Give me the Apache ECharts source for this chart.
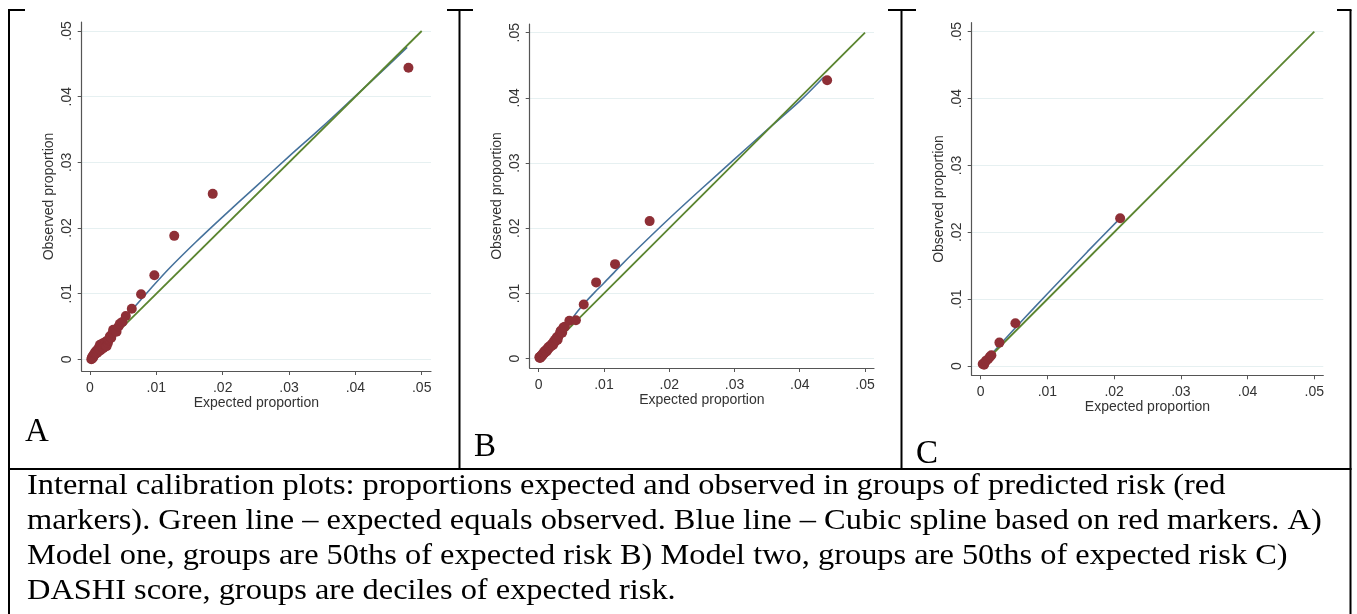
<!DOCTYPE html>
<html>
<head>
<meta charset="utf-8">
<script src="https://cdn.jsdelivr.net/npm/echarts@6/dist/echarts.min.js"></script>
<style>
html,body{margin:0;padding:0;background:#fff;}
#chart{width:1357px;height:614px;}
</style>
</head>
<body>
<div id="chart"></div>
<script>
// ---------- data ----------
var tickValues = [0, 0.01, 0.02, 0.03, 0.04, 0.05];
var xTitle = 'Expected proportion';
var yTitle = 'Observed proportion';
var panelLetters = ['A', 'B', 'C'];
var captionLines = [
  'Internal calibration plots: proportions expected and observed in groups of predicted risk (red',
  'markers). Green line \u2013 expected equals observed. Blue line \u2013 Cubic spline based on red markers. A)',
  'Model one, groups are 50ths of expected risk B) Model two, groups are 50ths of expected risk C)',
  'DASHI score, groups are deciles of expected risk.'
];

// Panel A: model one, 50ths of expected risk
var aExpected = [0.0002,0.0003,0.0003,0.0004,0.0005,0.0005,0.0006,0.0007,0.0008,0.0008,
                 0.0009,0.0010,0.0011,0.0011,0.0012,0.0013,0.0013,0.0014,0.0015,0.0016,
                 0.0016,0.0017,0.0018,0.0019,0.0020,0.0021,0.0022,0.0023,0.0024,0.0025,
                 0.0026,0.0027,0.0028,0.0029,0.0030,0.0032,0.0034,0.0035,0.0038,0.0040,
                 0.0043,0.0045,0.0049,0.0054,0.0063,0.0077,0.0097,0.0127,0.0185,0.0480];
var aObserved = [0.0000,0.0003,0.0001,0.0004,0.0006,0.0003,0.0007,0.0009,0.0008,0.0011,
                 0.0009,0.0013,0.0014,0.0010,0.0015,0.0017,0.0012,0.0016,0.0022,0.0019,
                 0.0014,0.0021,0.0018,0.0024,0.0017,0.0025,0.0022,0.0023,0.0027,0.0020,
                 0.0028,0.0025,0.0029,0.0031,0.0035,0.0033,0.0040,0.0045,0.0044,0.0042,
                 0.0050,0.0054,0.0057,0.0066,0.0077,0.0099,0.0128,0.0188,0.0252,0.0444];
var aSplineX = [0.0002,0.0010,0.0020,0.0035,0.0050,0.0070,0.0090,0.0120,0.0160,0.0200,0.0250,0.0300,0.0350,0.0400,0.0450,0.0478];
var aSplineY = [0.0002,0.0011,0.0023,0.0041,0.0059,0.0083,0.0106,0.0139,0.0179,0.0217,0.0263,0.0309,0.0354,0.0401,0.0448,0.0475];

// Panel B: model two, 50ths of expected risk
var bExpected = [0.0001,0.0002,0.0002,0.0003,0.0004,0.0004,0.0005,0.0006,0.0006,0.0007,
                 0.0008,0.0008,0.0009,0.0010,0.0010,0.0011,0.0012,0.0012,0.0013,0.0014,
                 0.0015,0.0015,0.0016,0.0017,0.0018,0.0019,0.0020,0.0021,0.0022,0.0023,
                 0.0024,0.0025,0.0026,0.0027,0.0028,0.0029,0.0030,0.0031,0.0033,0.0034,
                 0.0036,0.0038,0.0040,0.0047,0.0057,0.0069,0.0088,0.0117,0.0170,0.0442];
var bObserved = [0.0002,0.0001,0.0003,0.0002,0.0004,0.0005,0.0004,0.0006,0.0007,0.0007,
                 0.0008,0.0010,0.0009,0.0011,0.0012,0.0012,0.0011,0.0014,0.0013,0.0015,
                 0.0016,0.0018,0.0017,0.0018,0.0020,0.0019,0.0022,0.0023,0.0021,0.0026,
                 0.0025,0.0029,0.0027,0.0030,0.0033,0.0029,0.0034,0.0036,0.0041,0.0043,
                 0.0040,0.0048,0.0049,0.0058,0.0059,0.0083,0.0117,0.0145,0.0211,0.0427];
var bSplineX = [0.0001,0.0010,0.0020,0.0030,0.0040,0.0050,0.0060,0.0070,0.0085,0.0100,0.0120,0.0150,0.0200,0.0250,0.0300,0.0350,0.0400,0.0437];
var bSplineY = [0.0001,0.0011,0.0023,0.0035,0.0047,0.0060,0.0073,0.0085,0.0101,0.0116,0.0137,0.0167,0.0215,0.0261,0.0306,0.0351,0.0395,0.0432];

// Panel C: DASHI score, deciles of expected risk
var cExpected = [0.0003,0.0005,0.0006,0.0008,0.0011,0.0014,0.0016,0.0028,0.0052,0.0209];
var cObserved = [0.0003,0.0002,0.0005,0.0008,0.0010,0.0014,0.0016,0.0035,0.0064,0.0221];
var cSplineX = [0.0003,0.0010,0.0020,0.0030,0.0050,0.0080,0.0120,0.0160,0.0207];
var cSplineY = [0.0002,0.0010,0.0022,0.0033,0.0055,0.0087,0.0129,0.0171,0.0219];

// reference line: expected equals observed
var refLine = [0, 0.05];

// ---------- build ----------
function pairs(xs, ys){ var o=[]; for (var i=0;i<xs.length;i++) o.push([xs[i], ys[i]]); return o; }

var panels = [
  {ex:aExpected, ob:aObserved, sx:aSplineX, sy:aSplineY,
   grid:{left:81.7, top:22, width:349.3, height:349}, xmin:-0.00125, xmax:0.0514, ymin:-0.00178, ymax:0.05137,
   letter:{x:25, y:416}},
  {ex:bExpected, ob:bObserved, sx:bSplineX, sy:bSplineY,
   grid:{left:529.7, top:24, width:344.3, height:344}, xmin:-0.00138, xmax:0.05138, ymin:-0.00143, ymax:0.05133,
   letter:{x:474, y:431}},
  {ex:cExpected, ob:cObserved, sx:cSplineX, sy:cSplineY,
   grid:{left:971.7, top:22.7, width:351.6, height:352.6}, xmin:-0.00135, xmax:0.05135, ymin:-0.00139, ymax:0.05135,
   letter:{x:916, y:438}}
];

var AXIS_COLOR = '#555';
var TEXT_COLOR = '#333';
var fmt = function(v){ return v === 0 ? '0' : v.toFixed(2).replace(/^0/, ''); };

var grids=[], xAxes=[], yAxes=[], series=[], graphics=[];
panels.forEach(function(p, i){
  grids.push(p.grid);
  xAxes.push({
    type:'value', gridIndex:i, min:p.xmin, max:p.xmax,
    name:xTitle, nameLocation:'middle', nameGap:25, nameMoveOverlap:false,
    nameTextStyle:{fontFamily:'Liberation Sans', fontSize:14, color:TEXT_COLOR},
    axisLine:{onZero:false, lineStyle:{color:AXIS_COLOR, width:1.2}},
    axisTick:{show:true, length:4, customValues:tickValues, lineStyle:{color:AXIS_COLOR}},
    axisLabel:{customValues:tickValues, formatter:fmt, margin:10,
               fontFamily:'Liberation Sans', fontSize:14, color:TEXT_COLOR},
    splitLine:{show:false}
  });
  yAxes.push({
    type:'value', gridIndex:i, min:p.ymin, max:p.ymax,
    name:yTitle, nameLocation:'middle', nameGap:26, nameMoveOverlap:false,
    nameTextStyle:{fontFamily:'Liberation Sans', fontSize:14, color:TEXT_COLOR},
    axisLine:{show:true, onZero:false, lineStyle:{color:AXIS_COLOR, width:1.2}},
    axisTick:{show:true, length:4, customValues:tickValues, lineStyle:{color:AXIS_COLOR}},
    axisLabel:{customValues:tickValues, formatter:fmt, margin:8, rotate:90,
               fontFamily:'Liberation Sans', fontSize:14, color:TEXT_COLOR},
    splitLine:{show:true, lineStyle:{color:'#e6f0f1', width:1.2}}
  });
  series.push({
    type:'line', xAxisIndex:i, yAxisIndex:i, data:pairs(p.sx, p.sy), smooth:0.3,
    showSymbol:false, symbol:'none', silent:true, z:3,
    lineStyle:{color:'#46729c', width:1.6}
  });
  series.push({
    type:'line', xAxisIndex:i, yAxisIndex:i, data:pairs(refLine, refLine),
    showSymbol:false, symbol:'none', silent:true, z:4,
    lineStyle:{color:'#5b8530', width:1.8}
  });
  series.push({
    type:'scatter', xAxisIndex:i, yAxisIndex:i, data:pairs(p.ex, p.ob),
    symbol:'circle', symbolSize:10, silent:true, z:5,
    itemStyle:{color:'#8e2f36', opacity:1}
  });
  graphics.push({
    type:'text', left:p.letter.x, top:p.letter.y,
    style:{text:panelLetters[i], font:'33px "Liberation Serif"', fill:'#000'}
  });
});

// table borders
var B = '#000', W = 2;
function seg(x1,y1,x2,y2){ return {type:'line', shape:{x1:x1,y1:y1,x2:x2,y2:y2}, style:{stroke:B, lineWidth:W}, silent:true}; }
graphics.push(seg(9,10,9,614));
graphics.push(seg(1350.5,10,1350.5,614));
graphics.push(seg(459.5,10,459.5,469));
graphics.push(seg(901.5,10,901.5,469));
graphics.push(seg(8,469,1351.5,469));
graphics.push(seg(8,10,25,10));
graphics.push(seg(447,10,473,10));
graphics.push(seg(888,10,916,10));
graphics.push(seg(1337,10,1351.5,10));

// caption
var captionTops = [471, 506.5, 541.5, 576.5];
captionLines.forEach(function(t, k){
  graphics.push({type:'text', x:27, y:captionTops[k], scaleX:1.08,
    style:{text:t, font:'30px "Liberation Serif"', fill:'#000'}});
});

var chart = echarts.init(document.getElementById('chart'), null, {renderer:'canvas'});
chart.setOption({
  animation:false,
  backgroundColor:'#fff',
  grid:grids, xAxis:xAxes, yAxis:yAxes, series:series,
  graphic:{elements:graphics}
});
</script>
</body>
</html>
